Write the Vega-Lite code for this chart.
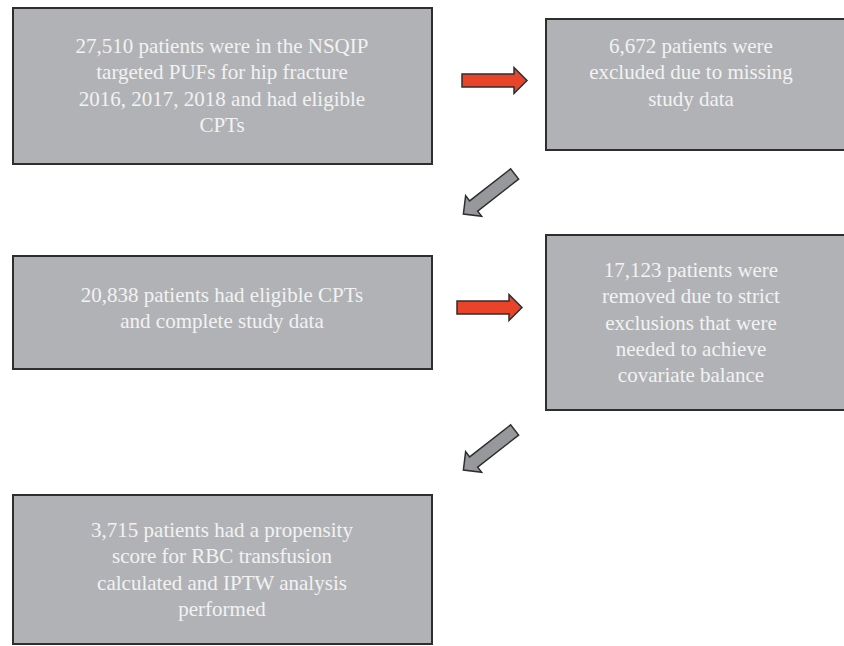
{
  "$schema": "https://vega.github.io/schema/vega-lite/v6.json",
  "width": 844,
  "height": 646,
  "autosize": {"type": "none"},
  "padding": 0,
  "background": "#ffffff",
  "view": {"stroke": null},
  "datasets": {
    "boxes": [
      {"step": "start", "left": 13, "right": 432, "top": 8, "bottom": 164, "cx": 222, "firstLine": 47, "label": "27,510 patients were in the NSQIP\ntargeted PUFs for hip fracture\n2016, 2017, 2018 and had eligible\nCPTs"},
      {"step": "excluded", "left": 546, "right": 850, "top": 19, "bottom": 150, "cx": 691, "firstLine": 47, "label": "6,672 patients were\nexcluded due to missing\nstudy data"},
      {"step": "complete", "left": 13, "right": 432, "top": 256, "bottom": 369, "cx": 222, "firstLine": 296, "label": "20,838 patients had eligible CPTs\nand complete study data"},
      {"step": "removed", "left": 546, "right": 850, "top": 235, "bottom": 410, "cx": 691, "firstLine": 271, "label": "17,123 patients were\nremoved due to strict\nexclusions that were\nneeded to achieve\ncovariate balance"},
      {"step": "final", "left": 13, "right": 432, "top": 495, "bottom": 644, "cx": 222, "firstLine": 531, "label": "3,715 patients had a propensity\nscore for RBC transfusion\ncalculated and IPTW analysis\nperformed"}
    ],
    "sideArrows": [
      {"from": "start", "to": "excluded", "ax": 494.5, "ay": 80.5},
      {"from": "complete", "to": "removed", "ax": 489.5, "ay": 307.5}
    ],
    "downArrows": [
      {"from": "excluded", "to": "complete", "ax": 489, "ay": 194},
      {"from": "removed", "to": "final", "ax": 489, "ay": 450}
    ]
  },
  "layer": [
    {
      "data": {"name": "boxes"},
      "mark": {"type": "rect", "fill": "#b1b2b5", "stroke": "#2e2e2e", "strokeWidth": 2},
      "encoding": {
        "x": {"field": "left", "type": "quantitative", "scale": {"domain": [0, 844], "nice": false, "zero": false}, "axis": null},
        "x2": {"field": "right"},
        "y": {"field": "top", "type": "quantitative", "scale": {"domain": [0, 646], "nice": false, "zero": false, "reverse": true}, "axis": null},
        "y2": {"field": "bottom"}
      }
    },
    {
      "data": {"name": "boxes"},
      "mark": {"type": "text", "font": "Liberation Serif", "fontSize": 21, "color": "#f2f2f2", "align": "center", "baseline": "middle", "lineBreak": "\n", "lineHeight": 26.3},
      "encoding": {
        "x": {"field": "cx", "type": "quantitative", "axis": null},
        "y": {"field": "firstLine", "type": "quantitative", "axis": null},
        "text": {"field": "label"}
      }
    },
    {
      "data": {"name": "sideArrows"},
      "mark": {"type": "point", "shape": "M-1,-0.2L0.6,-0.2L0.6,-0.4L1,0L0.6,0.4L0.6,0.2L-1,0.2Z", "size": 4225, "filled": true, "fill": "#e9432a", "fillOpacity": 1, "stroke": "#2e2e2e", "strokeWidth": 1.5, "opacity": 1},
      "encoding": {
        "x": {"field": "ax", "type": "quantitative", "axis": null},
        "y": {"field": "ay", "type": "quantitative", "axis": null}
      }
    },
    {
      "data": {"name": "downArrows"},
      "mark": {"type": "point", "shape": "M-1,-0.2L0.6,-0.2L0.6,-0.4L1,0L0.6,0.4L0.6,0.2L-1,0.2Z", "size": 4225, "angle": 142, "filled": true, "fill": "#97989b", "fillOpacity": 1, "stroke": "#2e2e2e", "strokeWidth": 1.5, "opacity": 1},
      "encoding": {
        "x": {"field": "ax", "type": "quantitative", "axis": null},
        "y": {"field": "ay", "type": "quantitative", "axis": null}
      }
    }
  ]
}
